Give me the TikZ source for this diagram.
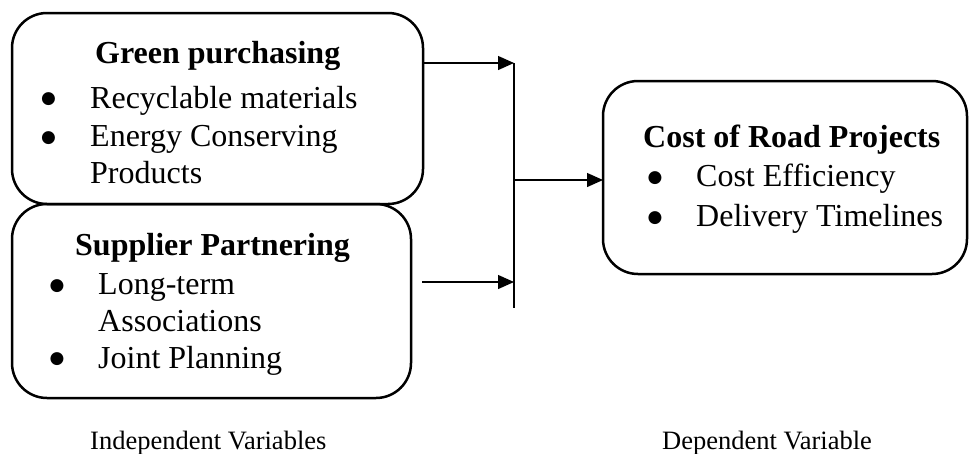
\documentclass[tikz,border=0pt]{standalone}
\usepackage{fontspec}
\setmainfont{Liberation Serif}
\newfontfamily\bulfont{DejaVu Sans}
\usetikzlibrary{arrows.meta}
\begin{document}
\begin{tikzpicture}[x=1pt,y=-1pt,
  box/.style={draw, line width=2.5pt, rounded corners=35pt, inner sep=0pt, outer sep=0pt},
  lbl/.style={anchor=base west, inner sep=0pt, font=\fontsize{32}{38}\selectfont},
  hd/.style={anchor=base west, inner sep=0pt, font=\fontsize{32}{38}\selectfont\bfseries},
  bul/.style={anchor=center, inner sep=0pt, font=\bulfont\fontsize{17}{17}\selectfont},
  captxt/.style={anchor=base west, inner sep=0pt, font=\fontsize{26.5}{30}\selectfont},
  conn/.style={line width=1.3pt},
  arr/.style={conn, -{Triangle[length=16pt,width=14pt]}}]
\useasboundingbox (0,0) rectangle (970,453);
% boxes
\node[box, minimum width=411pt, minimum height=191pt] (gp) at (217.5,108.5) {};
\node[box, minimum width=399pt, minimum height=194pt] (sp) at (211.5,301) {};
\node[box, minimum width=364pt, minimum height=193pt] (cr) at (785,177.5) {};
% green purchasing text
\node[hd] (gpt) at (95,63) {Green purchasing};
\node[bul] (gpb1) at (48.5,99.5) {●};
\node[lbl] (gp1) at (90,108) {Recyclable materials};
\node[bul] (gpb2) at (48.5,138) {●};
\node[lbl] (gp2) at (90,146.5) {Energy Conserving};
\node[lbl] (gp3) at (90,183.5) {Products};
% supplier partnering text
\node[hd] (spt) at (75,255) {Supplier Partnering};
\node[bul] (spb1) at (57,286) {●};
\node[lbl] (sp1) at (98,294.5) {Long-term};
\node[lbl] (sp2) at (98,331.5) {Associations};
\node[bul] (spb2) at (57,359.5) {●};
\node[lbl] (sp3) at (98,368) {Joint Planning};
% cost of road projects text
\node[hd] (crt) at (643,147) {Cost of Road Projects};
\node[bul] (crb1) at (655,178.5) {●};
\node[lbl] (cr1) at (696,186.5) {Cost Efficiency};
\node[bul] (crb2) at (655,218.5) {●};
\node[lbl] (cr2) at (696,226.5) {Delivery Timelines};
% captions
\node[captxt] (iv) at (90,449) {Independent Variables};
\node[captxt] (dv) at (662,449) {Dependent Variable};
% connectors
\coordinate (j1) at (514,63);
\coordinate (j2) at (514,282);
\coordinate (jm) at (514,180);
\coordinate (jb) at (514,308);
\coordinate (s2) at (422,282);
\draw[conn] (j1) -- (jb);
\draw[arr] (gp.east |- j1) -- (j1);
\draw[arr] (s2) -- (j2);
\draw[arr] (jm) -- (cr.west |- jm);
\end{tikzpicture}
\end{document}
